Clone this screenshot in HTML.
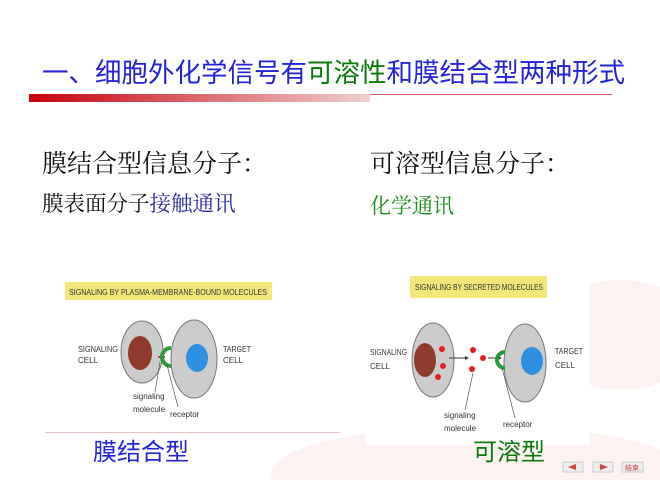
<!DOCTYPE html>
<html style="overflow:hidden"><head><meta charset="utf-8"><style>
html,body{margin:0;width:660px;height:480px;overflow:hidden;background:#fff}
body{position:relative;font-family:"Liberation Sans","Noto Sans CJK SC",sans-serif}
.a{position:absolute;white-space:nowrap}
.s{font-family:"Liberation Serif","Noto Serif CJK SC",serif}
</style></head><body>
<svg class="a" style="left:0;top:0" width="660" height="480">
<defs><linearGradient id="g"><stop offset="0" stop-color="#c8000c"/><stop offset="1" stop-color="#f0d0d0"/></linearGradient></defs>
<ellipse cx="620" cy="335" rx="80" ry="55" fill="#fdf2f2"/>
<ellipse cx="480" cy="475" rx="210" ry="50" fill="#fdf3f3"/>
<rect x="365" y="265" width="225" height="180" fill="#fff"/>
<rect x="29" y="94" width="341" height="8" fill="url(#g)"/>
<rect x="370" y="94" width="242" height="1" fill="#e06060"/>
<rect x="45" y="432" width="295" height="1" fill="#f0c0c0"/>
<rect x="65" y="282" width="207" height="18" fill="#f3e77a"/>
<text x="69" y="295" font-size="8" textLength="198" lengthAdjust="spacingAndGlyphs" fill="#333">SIGNALING BY PLASMA-MEMBRANE-BOUND MOLECULES</text>
<ellipse cx="142" cy="352" rx="21" ry="31" fill="#ccc" stroke="#777"/>
<ellipse cx="140" cy="353" rx="12" ry="17" fill="#8e3b2c"/>
<ellipse cx="194" cy="359" rx="23" ry="39" fill="#ccc" stroke="#777"/>
<ellipse cx="197" cy="358" rx="11" ry="14" fill="#2f8fe0"/>
<line x1="158" y1="357" x2="165" y2="357" stroke="#c33" stroke-width="2"/>
<path d="M171 348 a9 9 0 0 0 0 18" fill="none" stroke="#2a9a3a" stroke-width="4"/>
<line x1="160" y1="362" x2="155" y2="392" stroke="#555" stroke-width=".7"/>
<line x1="167" y1="365" x2="178" y2="407" stroke="#555" stroke-width=".7"/>
<g font-size="8" fill="#333"><text x="78" y="352" textLength="40" lengthAdjust="spacingAndGlyphs">SIGNALING</text><text x="78" y="363">CELL</text>
<text x="223" y="352" textLength="28" lengthAdjust="spacingAndGlyphs">TARGET</text><text x="223" y="363">CELL</text>
<text x="133" y="399">signaling</text><text x="133" y="412">molecule</text><text x="170" y="417">receptor</text></g>
<rect x="410" y="276" width="137" height="22" fill="#f3e77a"/>
<text x="415" y="290" font-size="8" textLength="128" lengthAdjust="spacingAndGlyphs" fill="#333">SIGNALING BY SECRETED MOLECULES</text>
<ellipse cx="433" cy="360" rx="21" ry="37" fill="#ccc" stroke="#777"/>
<ellipse cx="425" cy="360" rx="11" ry="17" fill="#8e3b2c"/>
<g fill="#e02020"><circle cx="442" cy="349" r="3"/><circle cx="443" cy="366" r="3"/><circle cx="438" cy="377" r="3"/>
<circle cx="473" cy="350" r="3"/><circle cx="483" cy="358" r="3"/><circle cx="472" cy="369" r="3"/></g>
<line x1="449" y1="358" x2="466" y2="358" stroke="#333"/><path d="M469 358l-4-2v4z" fill="#333"/>
<line x1="488" y1="358" x2="499" y2="358" stroke="#333"/><path d="M502 358l-4-2v4z" fill="#333"/>
<ellipse cx="525" cy="363" rx="21" ry="39" fill="#ccc" stroke="#777"/>
<ellipse cx="532" cy="361" rx="11" ry="14" fill="#2f8fe0"/>
<path d="M505 352 a8 8 0 0 0 0 16" fill="none" stroke="#2a9a3a" stroke-width="4"/>
<line x1="473" y1="373" x2="465" y2="410" stroke="#555" stroke-width=".7"/>
<line x1="502" y1="368" x2="515" y2="418" stroke="#555" stroke-width=".7"/>
<g font-size="8" fill="#333"><text x="370" y="355" textLength="37" lengthAdjust="spacingAndGlyphs">SIGNALING</text><text x="370" y="369">CELL</text>
<text x="555" y="354" textLength="28" lengthAdjust="spacingAndGlyphs">TARGET</text><text x="555" y="368">CELL</text>
<text x="444" y="418">signaling</text><text x="444" y="431">molecule</text><text x="503" y="427">receptor</text></g>
<g fill="#eee" stroke="#ccc"><rect x="563" y="462" width="20" height="10"/><rect x="593" y="462" width="20" height="10"/><rect x="622" y="462" width="21" height="10"/></g>
<path d="M568 467l8-3v6z" fill="#c44"/><path d="M608 467l-8-3v6z" fill="#c44"/>
<text x="625" y="470" font-size="7" fill="#c44">结束</text>
<text x="42" y="82" font-size="26.5" fill="#2323d8">一、细胞外化学信号有<tspan fill="#0a7a0a">可溶性</tspan>和膜结合型两种形式</text>
<g font-family="Liberation Serif,Noto Serif CJK SC,serif">
<text x="42" y="172" font-size="25" fill="#111">膜结合型信息分子：</text>
<text x="370" y="172" font-size="25" fill="#111">可溶型信息分子：</text>
<text x="42" y="211" font-size="21.5" fill="#111">膜表面分子<tspan fill="#2a2aa0">接触通讯</tspan></text>
<text x="370" y="213" font-size="21" fill="#1a8a1a">化学通讯</text>
</g>
<text x="93" y="460" font-size="24" fill="#2323d8">膜结合型</text>
<text x="473" y="460" font-size="24" fill="#0a7a0a">可溶型</text>
</svg>
</body></html>
